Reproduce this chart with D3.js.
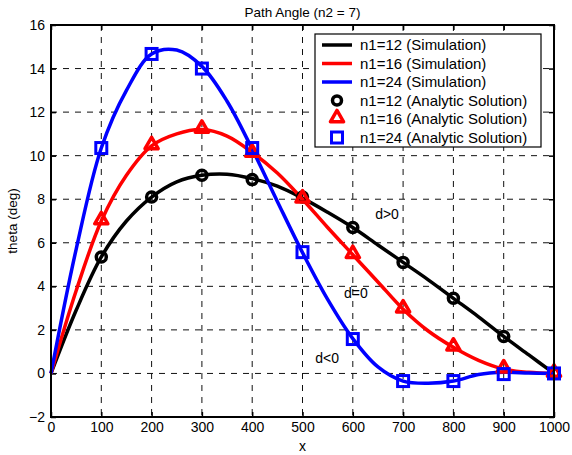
<!DOCTYPE html>
<html>
<head>
<meta charset="utf-8">
<script src="https://cdn.jsdelivr.net/npm/d3@7"></script>
<style>
  body { margin: 0; background: #fff; }
  text { font-family: "Liberation Sans", Arial, sans-serif; }
</style>
</head>
<body>
<script>
// Simulation curves (sampled every 50)
var simX = [0, 50, 100, 150, 200, 250, 300, 350, 400, 450, 500, 550, 600, 650, 700, 750, 800, 850, 900, 950, 1000];
var simN12 = [0, 2.9, 5.35, 7.0, 8.1, 8.8, 9.1, 9.15, 8.95, 8.6, 8.05, 7.4, 6.7, 5.9, 5.1, 4.3, 3.45, 2.6, 1.7, 0.85, 0];
var simN16 = [0, 3.8, 7.0, 9.1, 10.45, 11.0, 11.2, 10.9, 10.15, 9.2, 8.0, 6.7, 5.45, 4.2, 2.95, 1.95, 1.2, 0.6, 0.2, 0.05, 0];
var simN24 = [0, 5.7, 10.35, 13.0, 14.67, 14.85, 14.1, 12.5, 10.3, 7.9, 5.55, 3.4, 1.6, 0.3, -0.35, -0.45, -0.35, -0.05, 0.05, 0.02, 0];

// Analytic solution points
var anaX = [100, 200, 300, 400, 500, 600, 700, 800, 900, 1000];
var anaN12 = [5.35, 8.1, 9.1, 8.9, 8.1, 6.7, 5.1, 3.45, 1.7, 0];
var anaN16 = [7.0, 10.45, 11.2, 10.1, 8.0, 5.45, 2.95, 1.2, 0.2, 0];
var anaN24 = [10.35, 14.67, 14.0, 10.35, 5.57, 1.58, -0.35, -0.35, -0.03, 0];

var xTicks = [0, 100, 200, 300, 400, 500, 600, 700, 800, 900, 1000];
var yTicks = [-2, 0, 2, 4, 6, 8, 10, 12, 14, 16];

var legendLabels = ["n1=12 (Simulation)", "n1=16 (Simulation)", "n1=24 (Simulation)",
  "n1=12 (Analytic Solution)", "n1=16 (Analytic Solution)", "n1=24 (Analytic Solution)"];

var notes = [
  { text: "d>0", x: 668, y: 7.1 },
  { text: "d=0", x: 606, y: 3.45 },
  { text: "d<0", x: 549, y: 0.5 }
];

var margin = { top: 25, right: 18, bottom: 38, left: 51 },
    width = 572 - margin.left - margin.right,
    height = 455 - margin.top - margin.bottom;

var svg = d3.select("body").append("svg")
    .attr("width", 572)
    .attr("height", 455);

svg.append("rect").attr("width", 572).attr("height", 455).attr("fill", "#fff");

var g = svg.append("g")
    .attr("transform", "translate(" + margin.left + "," + margin.top + ")");

var x = d3.scaleLinear().domain([0, 1000]).range([0, width]);
var y = d3.scaleLinear().domain([-2, 16]).range([height, 0]);

// Grid
g.append("g").selectAll("line")
    .data(xTicks.slice(1, -1))
    .join("line")
    .attr("x1", function (d) { return x(d); })
    .attr("x2", function (d) { return x(d); })
    .attr("y1", 0).attr("y2", height)
    .attr("stroke", "#111").attr("stroke-width", 1)
    .attr("stroke-dasharray", "6,6");

g.append("g").selectAll("line")
    .data(yTicks.slice(1, -1))
    .join("line")
    .attr("y1", function (d) { return y(d); })
    .attr("y2", function (d) { return y(d); })
    .attr("x1", 0).attr("x2", width)
    .attr("stroke", "#111").attr("stroke-width", 1)
    .attr("stroke-dasharray", "6,6");

// Axes with inward ticks on all sides
function styleAxis(sel) {
  sel.select(".domain").remove();
  sel.selectAll(".tick line").attr("stroke", "#000").attr("stroke-width", 1.5);
  sel.selectAll(".tick text").style("font-size", "14px").attr("fill", "#000")
     .style("font-family", "'Liberation Sans', Arial, sans-serif");
}

g.append("g")
    .attr("transform", "translate(0," + height + ")")
    .call(d3.axisBottom(x).tickValues(xTicks).tickFormat(d3.format("d"))
      .tickSizeInner(-5).tickSizeOuter(0).tickPadding(5))
    .call(styleAxis);

g.append("g")
    .call(d3.axisLeft(y).tickValues(yTicks).tickSizeInner(-5).tickSizeOuter(0).tickPadding(6))
    .call(styleAxis);

g.append("g")
    .call(d3.axisTop(x).tickValues(xTicks).tickSizeInner(-5).tickSizeOuter(0).tickFormat(""))
    .call(styleAxis);

g.append("g")
    .attr("transform", "translate(" + width + ",0)")
    .call(d3.axisRight(y).tickValues(yTicks).tickSizeInner(-5).tickSizeOuter(0).tickFormat(""))
    .call(styleAxis);

// Simulation lines
var line = d3.line()
    .x(function (d, i) { return x(simX[i]); })
    .y(function (d) { return y(d); })
    .curve(d3.curveCatmullRom.alpha(0.5));

var sims = [
  { data: simN12, color: "#000" },
  { data: simN16, color: "#ff0000" },
  { data: simN24, color: "#0000ff" }
];

sims.forEach(function (s) {
  g.append("path")
      .datum(s.data)
      .attr("fill", "none")
      .attr("stroke", s.color)
      .attr("stroke-width", 3.5)
      .attr("stroke-linejoin", "round")
      .attr("d", line);
});

// Analytic markers
g.append("g").selectAll("circle")
    .data(anaN12)
    .join("circle")
    .attr("cx", function (d, i) { return x(anaX[i]); })
    .attr("cy", function (d) { return y(d); })
    .attr("r", 5)
    .attr("fill", "none")
    .attr("stroke", "#000")
    .attr("stroke-width", 3.5);

var tri = d3.symbol().type(d3.symbolTriangle).size(75);
g.append("g").selectAll("path")
    .data(anaN16)
    .join("path")
    .attr("transform", function (d, i) { return "translate(" + x(anaX[i]) + "," + (y(d) - 1) + ")"; })
    .attr("d", tri)
    .attr("fill", "none")
    .attr("stroke", "#ff0000")
    .attr("stroke-width", 3.5)
    .attr("stroke-linejoin", "round");

g.append("g").selectAll("rect")
    .data(anaN24)
    .join("rect")
    .attr("x", function (d, i) { return x(anaX[i]) - 5.5; })
    .attr("y", function (d) { return y(d) - 5.5; })
    .attr("width", 11).attr("height", 11)
    .attr("fill", "none")
    .attr("stroke", "#0000ff")
    .attr("stroke-width", 3);

// Annotations
g.append("g").selectAll("text")
    .data(notes)
    .join("text")
    .attr("x", function (d) { return x(d.x); })
    .attr("y", function (d) { return y(d.y); })
    .attr("text-anchor", "middle")
    .style("font-size", "14px")
    .text(function (d) { return d.text; });

// Plot frame
g.append("rect")
    .attr("width", width).attr("height", height)
    .attr("fill", "none")
    .attr("stroke", "#000")
    .attr("stroke-width", 2);

// Legend
var leg = svg.append("g").attr("transform", "translate(315,34)");
leg.append("rect")
    .attr("width", 226).attr("height", 113)
    .attr("fill", "#fff")
    .attr("stroke", "#000")
    .attr("stroke-width", 1.2);

var legColors = ["#000", "#ff0000", "#0000ff", "#000", "#ff0000", "#0000ff"];
legendLabels.forEach(function (lab, i) {
  var ly = 11 + i * 18.5;
  if (i < 3) {
    leg.append("line")
        .attr("x1", 7).attr("x2", 37)
        .attr("y1", ly).attr("y2", ly)
        .attr("stroke", legColors[i])
        .attr("stroke-width", 3.5);
  } else if (i === 3) {
    leg.append("circle").attr("cx", 22).attr("cy", ly).attr("r", 4.5)
        .attr("fill", "none").attr("stroke", legColors[i]).attr("stroke-width", 3.5);
  } else if (i === 4) {
    leg.append("path").attr("transform", "translate(22," + (ly - 1) + ")")
        .attr("d", tri).attr("fill", "none")
        .attr("stroke", legColors[i]).attr("stroke-width", 3.5)
        .attr("stroke-linejoin", "round");
  } else {
    leg.append("rect").attr("x", 16.5).attr("y", ly - 5.5).attr("width", 11).attr("height", 11)
        .attr("fill", "none").attr("stroke", legColors[i]).attr("stroke-width", 3);
  }
  leg.append("text")
      .attr("x", 45).attr("y", ly + 5)
      .style("font-size", "15px")
      .text(lab);
});

// Title and axis labels
svg.append("text")
    .attr("x", margin.left + width / 2).attr("y", 17)
    .attr("text-anchor", "middle")
    .style("font-size", "13.5px")
    .text("Path Angle (n2 = 7)");

svg.append("text")
    .attr("x", margin.left + width / 2).attr("y", 451)
    .attr("text-anchor", "middle")
    .style("font-size", "14px")
    .text("x");

svg.append("text")
    .attr("transform", "translate(17," + (margin.top + height / 2) + ") rotate(-90)")
    .attr("text-anchor", "middle")
    .style("font-size", "13.5px")
    .text("theta (deg)");
</script>
</body>
</html>
